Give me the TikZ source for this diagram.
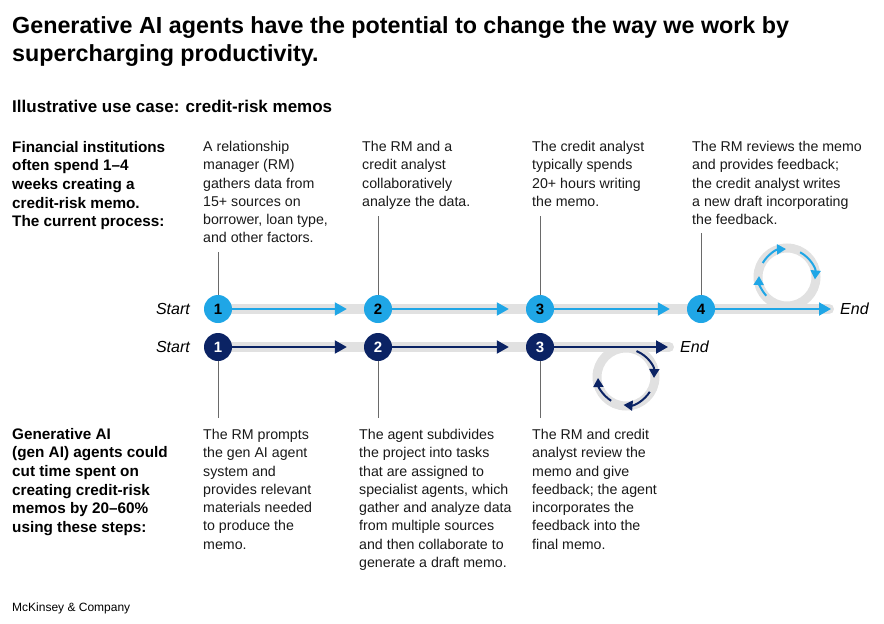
\documentclass[tikz,border=0pt]{standalone}
\usepackage{fontspec}
\setmainfont{Liberation Sans}
\usetikzlibrary{arrows.meta}
\definecolor{cyanmk}{HTML}{1FA6E6}
\definecolor{navymk}{HTML}{0B2364}
\definecolor{bandgray}{HTML}{E1E1E1}
\definecolor{vgray}{HTML}{6A6A6A}
\begin{document}
\begin{tikzpicture}[x=1pt,y=-1pt,
  body/.style={anchor=north west, inner sep=0pt, align=left, text=black!90, font=\fontsize{14.2}{18.3}\selectfont},
  boldbody/.style={body, text=black, font=\fontsize{15.3}{18.6}\selectfont\bfseries},
  numc/.style={circle, minimum size=28pt, inner sep=0pt, font=\fontsize{15}{15}\selectfont\bfseries},
  topc/.style={numc, fill=cyanmk, text=black},
  botc/.style={numc, fill=navymk, text=white},
  band/.style={bandgray, line width=10pt, line cap=round},
  flowtop/.style={cyanmk, line width=2pt, -{Triangle[length=12pt,width=13pt]}, shorten >=17pt},
  flowbot/.style={navymk, line width=2pt, -{Triangle[length=12pt,width=13pt]}, shorten >=17pt},
  vline/.style={vgray, line width=0.8pt},
  sel/.style={inner sep=0pt, font=\fontsize{16}{18}\selectfont\itshape},
  ring/.style={bandgray, line width=9pt},
  cyc/.style={line width=2pt, -{Triangle[length=9pt,width=10pt]}}
]
\useasboundingbox (0,0) rectangle (884,624);
% title
\node[anchor=north west, inner sep=0pt, align=left, font=\fontsize{23.3}{28.5}\selectfont\bfseries] (title) at (12,16)
  {Generative AI agents have the potential to change the way we work by\\supercharging productivity.};
\node[anchor=north west, inner sep=0pt, font=\fontsize{17}{20}\selectfont\bfseries] (sub) at (12,100)
  {Illustrative use case: credit-risk memos};
% left labels
\node[boldbody] (lt) at (12,141) {Financial institutions\\often spend 1--4\\weeks creating a\\credit-risk memo.\\The current process:};
\node[boldbody] (lb) at (12,428) {Generative AI\\(gen AI) agents could\\cut time spent on\\creating credit-risk\\memos by 20--60\%\\using these steps:};
% top texts
\node[body] (tt1) at (203,141) {A relationship\\manager (RM)\\gathers data from\\15+ sources on\\borrower, loan type,\\and other factors.};
\node[body] (tt2) at (362,141) {The RM and a\\credit analyst\\collaboratively\\analyze the data.};
\node[body] (tt3) at (532,141) {The credit analyst\\typically spends\\20+ hours writing\\the memo.};
\node[body] (tt4) at (692,141) {The RM reviews the memo\\and provides feedback;\\the credit analyst writes\\a new draft incorporating\\the feedback.};
% bottom texts
\node[body] (bt1) at (203,429) {The RM prompts\\the gen AI agent\\system and\\provides relevant\\materials needed\\to produce the\\memo.};
\node[body] (bt2) at (359,429) {The agent subdivides\\the project into tasks\\that are assigned to\\specialist agents, which\\gather and analyze data\\from multiple sources\\and then collaborate to\\generate a draft memo.};
\node[body] (bt3) at (532,429) {The RM and credit\\analyst review the\\memo and give\\feedback; the agent\\incorporates the\\feedback into the\\final memo.};
% start / end labels
\node[sel, anchor=east] (st) at (190,309) {Start};
\node[sel, anchor=east] (sb) at (190,347) {Start};
\node[sel, anchor=west] (et) at (840,309) {End};
\node[sel, anchor=west] (eb) at (680,347) {End};
\coordinate (ett) at (831,309);
\coordinate (ebt) at (668,347);
% bands
\draw[band] (218,309) -- (829,309);
\draw[band] (218,347) -- (669,347);
% cycles
\draw[ring] (787,277) circle (29);
\draw[ring] (626,377) circle (29);
% circles
\node[topc] (t1) at (218,309) {1};
\node[topc] (t2) at (378,309) {2};
\node[topc] (t3) at (540,309) {3};
\node[topc] (t4) at (701,309) {4};
\node[botc] (b1) at (218,347) {1};
\node[botc] (b2) at (378,347) {2};
\node[botc] (b3) at (540,347) {3};
% flows
\draw[flowtop] (t1) -- (t2);
\draw[flowtop] (t2) -- (t3);
\draw[flowtop] (t3) -- (t4);
\draw[flowtop, shorten >=0pt] (t4) -- (ett);
\draw[flowbot] (b1) -- (b2);
\draw[flowbot] (b2) -- (b3);
\draw[flowbot, shorten >=0pt] (b3) -- (ebt);
% cycle arrows (y axis points down: visual clockwise = increasing angle)
\draw[cyc, cyanmk] ([shift={(-150:28)}]787,277) arc[start angle=-150, end angle=-92, radius=28];
\draw[cyc, cyanmk] ([shift={(-62:28)}]787,277) arc[start angle=-62, end angle=5, radius=28];
\draw[cyc, cyanmk] ([shift={(-222:28)}]787,277) arc[start angle=-222, end angle=-178, radius=28];
\draw[cyc, navymk] ([shift={(-68:28)}]626,377) arc[start angle=-68, end angle=2, radius=28];
\draw[cyc, navymk] ([shift={(32:28)}]626,377) arc[start angle=32, end angle=95, radius=28];
\draw[cyc, navymk] ([shift={(-238:28)}]626,377) arc[start angle=-238, end angle=-182, radius=28];
% vertical connectors
\draw[vline] (t1.north) -- (t1.north |- 0,252);
\draw[vline] (t2.north) -- (t2.north |- 0,216);
\draw[vline] (t3.north) -- (t3.north |- 0,216);
\draw[vline] (t4.north) -- (t4.north |- 0,233);
\draw[vline] (b1.south) -- (b1.south |- 0,418);
\draw[vline] (b2.south) -- (b2.south |- 0,418);
\draw[vline] (b3.south) -- (b3.south |- 0,418);
% footer
\node[anchor=west, inner sep=0pt, font=\fontsize{12}{14}\selectfont] (foot) at (12,608) {McKinsey \& Company};
\end{tikzpicture}
\end{document}
